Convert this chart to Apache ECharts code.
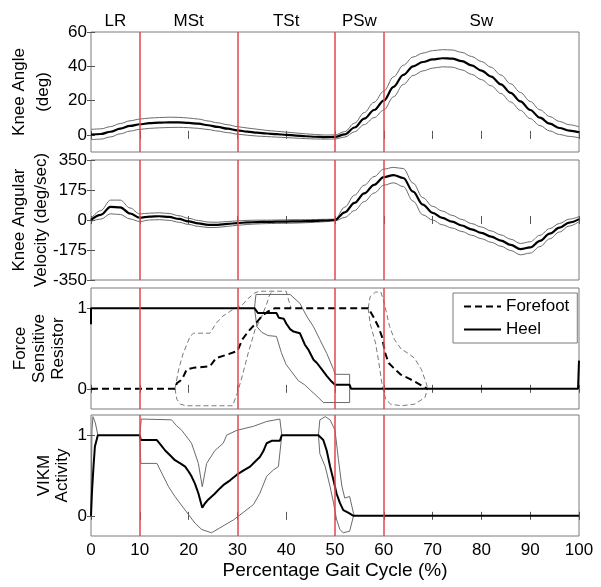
<!DOCTYPE html>
<html><head><meta charset="utf-8">
<script src="https://cdn.jsdelivr.net/npm/echarts@6/dist/echarts.min.js"></script>
<style>html,body{margin:0;padding:0;background:#fff}#c{width:601px;height:587px}</style>
</head><body><div id="c"></div>
<script>
// ---------- data ----------
const pct = [0,2,4,6,8,10,12,14,16,18,20,22,24,26,28,30,32,34,36,38,40,42,44,46,48,50,52,54,56,58,60,62,64,66,68,70,72,74,76,78,80,82,84,86,88,90,92,94,96,98,100];
const angleMean  = [0.2,0.5,1.8,3.6,5.2,6.2,6.8,7.1,7.3,7.3,7.0,6.5,5.6,4.6,3.6,2.6,1.9,1.3,0.8,0.4,0.0,-0.4,-0.8,-1.1,-1.3,-1.2,0.3,4.3,9.5,14.5,20,28,35,40,42.5,44,44.7,44.5,43,40.5,37.5,34,29.5,24.5,19.5,14.5,10,6.5,4,2.5,1.5];
const angleUpper = [3.2,3.5,4.8,6.6,8.2,9.2,9.8,10.1,10.3,10.2,9.8,9.2,8.1,7.0,5.9,4.8,4.0,3.3,2.6,2.1,1.6,1.1,0.6,0.2,-0.1,0.0,1.9,6.8,13.0,19.0,25.5,33.8,40.6,45.4,47.7,49.1,49.7,49.5,48.1,45.7,42.8,39.4,34.9,29.8,24.7,19.5,14.6,10.7,7.8,5.9,4.7];
const angleLower = [-2.8,-2.5,-1.2,0.6,2.2,3.2,3.8,4.1,4.3,4.4,4.2,3.8,3.1,2.2,1.3,0.4,-0.2,-0.7,-1.0,-1.3,-1.6,-1.9,-2.2,-2.4,-2.5,-2.4,-1.3,1.8,6.0,10.0,14.5,22.2,29.4,34.6,37.3,38.9,39.7,39.5,37.9,35.3,32.2,28.6,24.1,19.2,14.3,9.5,5.4,2.3,0.2,-0.9,-1.7];

const velMean  = [0,30,76,74,38,13,20,22,18,6,-8,-20,-28,-28,-23,-18,-14,-12,-11,-10,-9,-8,-7,-5,-3,0,45,100,155,205,250,262,245,165,90,42,12,-10,-32,-55,-75,-97,-120,-145,-170,-160,-122,-80,-45,-15,5];
const velUpper = [8,55,116,116,70,35,40,42,38,25,10,-3,-12,-13,-9,-5,-2,-1,-1,0,1,2,2,3,4,5,75,145,203,253,297,307,300,215,130,80,52,27,3,-21,-41,-64,-87,-112,-137,-127,-89,-50,-20,5,20];
const velLower = [-8,5,36,32,6,-9,0,2,-2,-13,-26,-37,-44,-43,-37,-31,-26,-23,-21,-20,-19,-18,-16,-13,-10,-5,15,55,107,157,203,217,195,110,30,0,-28,-47,-67,-89,-109,-130,-153,-178,-203,-193,-155,-110,-70,-35,-10];

const heelMean  = [[0,0.8],[0,1],[33.5,1],[34.2,0.94],[38,0.94],[38.5,0.88],[39.5,0.87],[40,0.81],[40.8,0.74],[41.5,0.71],[42.8,0.69],[43.8,0.55],[44.5,0.49],[45.6,0.36],[46.3,0.32],[47.3,0.24],[48.3,0.16],[49.3,0.09],[50,0.05],[53,0.05],[53.3,0],[99.8,0],[100,0.35]];
const heelUpper = [[33.5,1],[33.8,1.17],[40.8,1.17],[42.8,1.06],[44.2,0.9],[45.6,0.77],[46.9,0.61],[48.3,0.44],[49.7,0.24],[50,0.18],[53,0.18],[53,0]];
const heelLower = [[33.5,1],[34,0.77],[35,0.7],[36.3,0.66],[38,0.65],[39,0.45],[40,0.3],[41,0.22],[42.5,0.1],[43.8,0.05],[45,-0.02],[46.3,-0.09],[47.6,-0.17],[53,-0.17],[53,0]];

const ffMean   = [[0,0],[17.2,0],[17.6,0.07],[18.3,0.1],[19,0.16],[19.6,0.24],[21,0.26],[24.4,0.28],[25.6,0.38],[27.7,0.42],[29.1,0.45],[30,0.47],[31,0.61],[32.2,0.71],[33.6,0.8],[35,0.9],[36.3,0.96],[37.7,1],[56.8,1],[57.8,0.9],[58.9,0.77],[59.6,0.65],[60.3,0.44],[61,0.32],[62,0.26],[63.4,0.18],[65.4,0.12],[67.5,0.05],[68.9,0]];
const ffUpperA = [[17.2,0],[18,0.25],[18.9,0.44],[20.3,0.65],[21,0.69],[24.4,0.69],[25.6,0.81],[27,0.9],[29,0.98],[31,1.04],[32.2,1.12],[33.6,1.19],[34.5,1.21],[40,1.21],[40.5,1.1],[41,1]];
const ffLowerA = [[17.2,0],[17.6,-0.13],[18.3,-0.19],[19.5,-0.21],[29,-0.21],[30,-0.05],[31,0.16],[32.2,0.44],[33.6,0.73],[35,0.9],[36,1.05],[36.5,1.15],[37,1.2],[37.5,1.21]];
const ffUpperB = [[56.8,1],[57.2,1.14],[58.3,1.2],[59.4,1.2],[60.1,1.06],[61.2,0.77],[62.2,0.61],[63.6,0.49],[65,0.44],[66.3,0.38],[67.7,0.24],[68.7,0.07],[69,0]];
const ffLowerB = [[56.8,1],[57.2,0.81],[58.3,0.57],[59,0.32],[59.7,0.03],[60.4,-0.13],[61.4,-0.19],[63.6,-0.21],[66.3,-0.19],[68.4,-0.11],[69,0]];

const vikmMean = [[0,0],[0.2,0.3],[0.5,0.6],[0.8,0.86],[1.4,1],[10,1],[10.2,0.94],[13.5,0.94],[14.3,0.88],[15.2,0.81],[16.2,0.75],[17.2,0.69],[18.3,0.65],[19.3,0.61],[20,0.55],[20.6,0.49],[21.3,0.4],[22,0.28],[22.8,0.1],[23.3,0.15],[24,0.2],[24.4,0.22],[25.3,0.27],[26.4,0.34],[27.1,0.38],[28.5,0.44],[29.9,0.51],[31.2,0.56],[32.6,0.61],[33.6,0.67],[34.6,0.73],[35.3,0.8],[36,0.9],[37,0.93],[38.7,0.93],[39.1,1],[46.6,1],[47.6,0.94],[48.3,0.81],[49,0.61],[49.7,0.44],[50.3,0.28],[51,0.16],[51.7,0.07],[52.7,0.04],[53.8,0],[100,0]];
const vikmUpperA = [[0,0],[0.2,1.06],[0.4,1.23],[0.9,1.15],[1.4,1]];
const vikmUpperB = [[10,1],[10.3,1.2],[16.5,1.19],[17.5,1.12],[18.6,1.06],[20.6,0.9],[22,0.65],[22.8,0.36],[23.7,0.65],[25.4,0.81],[27.1,0.9],[27.8,1.0],[29.9,1.06],[33.3,1.11],[36,1.17],[38.7,1.2],[39.1,1]];
const vikmLowerB = [[10,1],[10.2,0.65],[13.5,0.65],[14.5,0.53],[15.9,0.36],[17.2,0.24],[19.3,0.07],[21.3,-0.09],[22.7,-0.17],[24.7,-0.21],[26.4,-0.15],[29.2,-0.05],[30.5,0.01],[33.3,0.14],[34.6,0.28],[36,0.49],[37.4,0.57],[38.4,0.61],[39.1,1]];
const vikmUpperC = [[46.6,1],[46.9,1.19],[48,1.23],[49,1.19],[50,1.06],[50.7,0.7],[51.4,0.37],[52,0.22],[53,0.24],[53.8,0.03],[54,0]];
const vikmLowerC = [[46.6,1],[46.9,0.77],[48,0.61],[49,0.36],[49.7,0.16],[50.3,-0.04],[51,-0.17],[51.7,-0.21],[53,-0.19],[53.8,0],[54,0]];

const phaseBounds  = [10,30,50,60];
const phaseNames   = ['LR','MSt','TSt','PSw','Sw'];
const phaseCenters = [5,20,40,55,80];
const xTicks    = [0,10,20,30,40,50,60,70,80,90,100];
const angleTicks = [0,20,40,60];
const velTicks   = [-350,-175,0,175,350];
const unitTicks  = [0,1];
const yNames = ['Knee Angle\n(deg)','Knee Angular\nVelocity (deg/sec)','Force\nSensitive\nResistor','VIKM\nActivity'];
const xTitle = 'Percentage Gait Cycle (%)';

// ---------- chart ----------
const font = 'Liberation Sans, Arial, sans-serif';
const gridPos = [{top:32,height:120},{top:160,height:120},{top:288,height:121},{top:415,height:121}];
const yRange = [[-10,60],[-350,350],[-0.25,1.25],[-0.25,1.25]];
const yTicks = [angleTicks, velTicks, unitTicks, unitTicks];
const yNameCfg = [{gap:36,lh:24},{gap:39,lh:22},{gap:23,lh:19},{gap:20,lh:17.5}];

const grids = gridPos.map(g => ({left:91, width:488, top:g.top, height:g.height, show:true, borderColor:'#7a7a7a', borderWidth:1, containLabel:false, outerBoundsMode:'none'}));
const tickStyle = {show:true, inside:true, length:4, lineStyle:{color:'#555', width:1}};
const xAxes = [], yAxes = [];
gridPos.forEach((g, i) => {
  xAxes.push({type:'value', gridIndex:i, position:'bottom', min:0, max:100,
    axisLine:{show:false}, splitLine:{show:false}, nameMoveOverlap:false,
    axisTick:Object.assign({customValues:xTicks}, tickStyle),
    axisLabel: i===3 ? {show:true, customValues:xTicks, fontSize:17, color:'#000', fontFamily:font, margin:6} : {show:false},
    name: i===3 ? xTitle : '', nameLocation:'middle', nameGap:25,
    nameTextStyle:{fontSize:19, color:'#000', fontFamily:font}});
  xAxes.push({type:'value', gridIndex:i, position:'top', min:0, max:100,
    axisLine:{show:false}, splitLine:{show:false},
    axisTick:Object.assign({customValues:xTicks}, tickStyle),
    axisLabel: i===0 ? {show:true, customValues:phaseCenters, fontSize:17, color:'#000', fontFamily:font, margin:2,
       formatter: v => phaseNames[phaseCenters.indexOf(v)] || ''} : {show:false}});
  yAxes.push({type:'value', gridIndex:i, position:'left', min:yRange[i][0], max:yRange[i][1],
    axisLine:{show:false}, splitLine:{show:false}, nameMoveOverlap:false,
    axisTick:Object.assign({customValues:yTicks[i]}, tickStyle),
    axisLabel:{show:true, customValues:yTicks[i], fontSize:17, color:'#000', fontFamily:font, margin:4},
    name:yNames[i], nameLocation:'middle', nameRotate:90, nameGap:yNameCfg[i].gap,
    nameTextStyle:{fontSize:17, color:'#000', fontFamily:font, lineHeight:yNameCfg[i].lh, align:'center'}});
  yAxes.push({type:'value', gridIndex:i, position:'right', min:yRange[i][0], max:yRange[i][1],
    axisLine:{show:false}, splitLine:{show:false},
    axisTick:Object.assign({customValues:yTicks[i]}, tickStyle),
    axisLabel:{show:false}});
});

const SD = '#6a6a6a';
function ser(g, data, opt) {
  return Object.assign({type:'line', xAxisIndex:2*g, yAxisIndex:2*g, data:data, symbol:'none',
    animation:false, silent:true, z:3, itemStyle:{color:'#000'},
    lineStyle:{color:'#000', width:2}}, opt||{});
}
function pairs(xs, ys) { return xs.map((x,k) => [x, ys[k]]); }
const redMark = {silent:true, symbol:'none', animation:false, label:{show:false},
  lineStyle:{color:'#e0474c', width:1.5, type:'solid'},
  data: phaseBounds.map(v => ({xAxis:v}))};
const sdStyle = {color:SD, width:1};
const sdDash = {color:'#7a7a7a', width:1, type:[5,3]};
const smooth = {smooth:0.35, smoothMonotone:'x'};

const series = [
  ser(0, pairs(pct, angleUpper), Object.assign({lineStyle:sdStyle, z:2, markLine:redMark}, smooth)),
  ser(0, pairs(pct, angleLower), Object.assign({lineStyle:sdStyle, z:2}, smooth)),
  ser(0, pairs(pct, angleMean), Object.assign({lineStyle:{color:'#000', width:2.2}}, smooth)),
  ser(1, pairs(pct, velUpper), Object.assign({lineStyle:sdStyle, z:2, markLine:redMark}, smooth)),
  ser(1, pairs(pct, velLower), Object.assign({lineStyle:sdStyle, z:2}, smooth)),
  ser(1, pairs(pct, velMean), Object.assign({lineStyle:{color:'#000', width:2.2}}, smooth)),
  ser(2, ffUpperA, {lineStyle:sdDash, z:2, markLine:redMark}),
  ser(2, ffLowerA, {lineStyle:sdDash, z:2}),
  ser(2, ffUpperB, {lineStyle:sdDash, z:2}),
  ser(2, ffLowerB, {lineStyle:sdDash, z:2}),
  ser(2, heelUpper, {lineStyle:sdStyle, z:2}),
  ser(2, heelLower, {lineStyle:sdStyle, z:2}),
  ser(2, ffMean, {name:'Forefoot', lineStyle:{color:'#000', width:2, type:[7,4]}}),
  ser(2, heelMean, {name:'Heel', lineStyle:{color:'#000', width:2}}),
  ser(3, vikmUpperA, {lineStyle:sdStyle, z:2}),
  ser(3, vikmUpperB, {lineStyle:sdStyle, z:2, markLine:redMark}),
  ser(3, vikmLowerB, {lineStyle:sdStyle, z:2}),
  ser(3, vikmUpperC, {lineStyle:sdStyle, z:2}),
  ser(3, vikmLowerC, {lineStyle:sdStyle, z:2}),
  ser(3, vikmMean, {lineStyle:{color:'#000', width:2}})
];

const chart = echarts.init(document.getElementById('c'), null, {renderer:'canvas'});
chart.setOption({
  animation:false,
  backgroundColor:'#fff',
  textStyle:{fontFamily:font},
  grid:grids, xAxis:xAxes, yAxis:yAxes,
  legend:{data:['Forefoot','Heel'], orient:'vertical', left:453, top:293,
    itemWidth:37, itemHeight:14, itemGap:6, padding:[5,8,5,10],
    borderColor:'#7a7a7a', borderWidth:1, backgroundColor:'#fff', selectedMode:false,
    itemStyle:{opacity:0},
    textStyle:{fontSize:17, color:'#000', fontFamily:font}},
  series:series
});
</script></body></html>
